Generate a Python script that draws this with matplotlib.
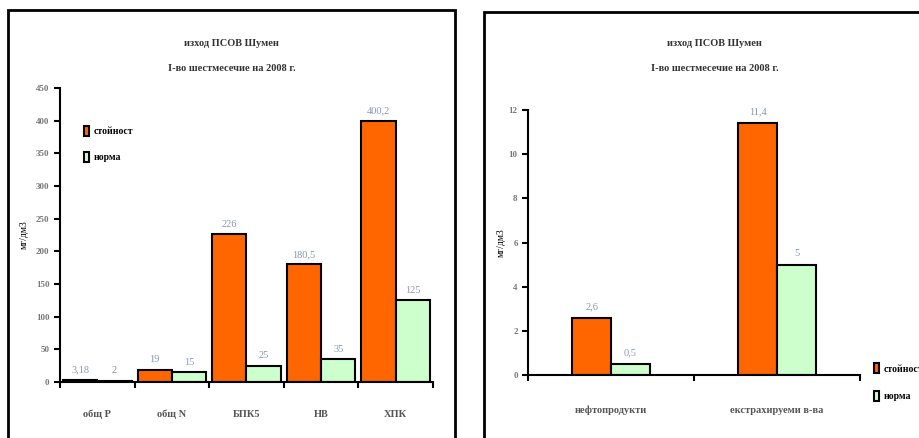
import matplotlib.pyplot as plt
from matplotlib.patches import Rectangle, Patch
import numpy as np

plt.rcParams['font.family'] = ['Liberation Serif', 'DejaVu Serif']
plt.rcParams['font.weight'] = 'bold'

title = 'изход ПСОВ Шумен\nI-во шестмесечие на 2008 г.'
ylab = 'мг/дм3'
series = ['стойност', 'норма']

cats1 = ['общ P', 'общ N', 'БПК5', 'НВ', 'ХПК']
val1 = [3.18, 19, 226, 180.5, 400.2]
norm1 = [2, 15, 25, 35, 125]
lab_val1 = ['3,18', '19', '226', '180,5', '400,2']
lab_norm1 = ['2', '15', '25', '35', '125']

cats2 = ['нефтопродукти', 'екстрахируеми в-ва']
val2 = [2.6, 11.4]
norm2 = [0.5, 5]
lab_val2 = ['2,6', '11,4']
lab_norm2 = ['0,5', '5']

orange = '#FF6600'
green = '#CCFFCC'
lblc = '#8a96b8'
tickc = '#777777'

fig = plt.figure(figsize=(9.2, 4.38), dpi=100)

# frames
fig.add_artist(Rectangle((0.0087, -0.1), 0.486, 1.077, transform=fig.transFigure,
                         fill=False, ec='black', lw=2))
fig.add_artist(Rectangle((0.526, -0.1), 0.6, 1.073, transform=fig.transFigure,
                         fill=False, ec='black', lw=2))


def draw(ax, cats, vals, norms, lv, ln, w, ymax, step, off, pad):
    x = np.arange(len(cats))
    ax.bar(x - w / 2, vals, w, color=orange, edgecolor='black', lw=1.5)
    ax.bar(x + w / 2, norms, w, color=green, edgecolor='black', lw=1.5)
    for i in range(len(cats)):
        ax.text(x[i] - w / 2, vals[i] + off, lv[i], ha='center', va='bottom',
                fontsize=7.5, color=lblc, fontweight='normal')
        ax.text(x[i] + w / 2, norms[i] + off, ln[i], ha='center', va='bottom',
                fontsize=7.5, color=lblc, fontweight='normal')
    ax.set_xlim(-0.5, len(cats) - 0.5)
    ax.set_ylim(0, ymax)
    ax.set_yticks(np.arange(0, ymax + step / 2, step))
    ax.set_xticks(x)
    ax.set_xticklabels(cats, fontsize=7.5, color='#555555')
    ax.set_xticks(np.arange(len(cats) + 1) - 0.5, minor=True)
    ax.tick_params(axis='x', which='major', length=0, pad=pad)
    ax.tick_params(axis='x', which='minor', length=4, width=1.5, direction='out')
    ax.tick_params(axis='y', length=4, width=1.5, labelsize=6.5, labelcolor=tickc)
    for s in ['top', 'right']:
        ax.spines[s].set_visible(False)
    for s in ['left', 'bottom']:
        ax.spines[s].set_linewidth(1.5)
    ax.set_facecolor('none')


ax1 = fig.add_axes([0.0652, 0.1279, 0.4054, 0.671])
draw(ax1, cats1, val1, norm1, lab_val1, lab_norm1, 0.46, 450, 50, 8, 20)
ax1.set_ylabel(ylab, fontsize=7, labelpad=5)
fig.text(0.252, 0.873, title, ha='center', va='center', fontsize=7.5,
         linespacing=3.3, color='#333333')
ax1.legend(handles=[Patch(fc=orange, ec='black', lw=1.5), Patch(fc=green, ec='black', lw=1.5)],
           labels=series, loc='upper left', bbox_to_anchor=(0.04, 0.9), frameon=False,
           fontsize=7, handlelength=0.6, handleheight=1.2, labelspacing=1.6, handletextpad=0.4)

ax2 = fig.add_axes([0.574, 0.1438, 0.361, 0.605])
draw(ax2, cats2, val2, norm2, lab_val2, lab_norm2, 0.235, 12, 2, 0.3, 22)
ax2.set_ylabel(ylab, fontsize=7, labelpad=2)
fig.text(0.777, 0.873, title, ha='center', va='center', fontsize=7.5,
         linespacing=3.3, color='#333333')
fig.legend(handles=[Patch(fc=orange, ec='black', lw=1.5), Patch(fc=green, ec='black', lw=1.5)],
           labels=series, loc='center left', bbox_to_anchor=(0.94, 0.127), frameon=False,
           fontsize=7, handlelength=0.6, handleheight=1.2, labelspacing=1.8, handletextpad=0.4)

fig.savefig('out.png', dpi=100)
